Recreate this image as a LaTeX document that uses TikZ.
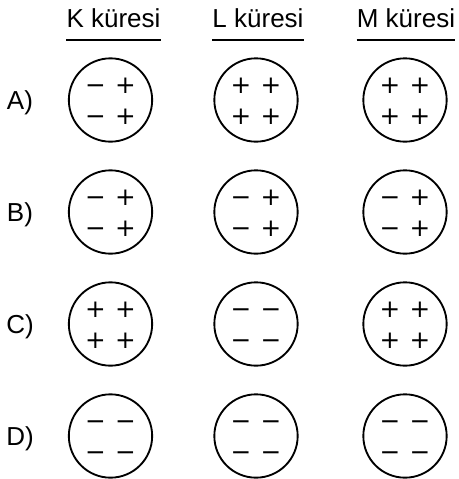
\documentclass[tikz,border=0pt]{standalone}
\usepackage{fontspec}
\setmainfont{Liberation Sans}
\newfontfamily\signfont{DejaVu Sans}
\begin{document}
\begin{tikzpicture}[x=0.75pt, y=-0.75pt,
        sphere/.style={draw, circle, line width=1.4pt, minimum size=62.5pt, inner sep=0pt},
        head/.style={font=\fontsize{19.5}{23}\selectfont, anchor=base, inner sep=0pt},
        rowlabel/.style={font=\fontsize{19.5}{23}\selectfont, anchor=base, inner sep=0pt},
        charge/.style={font=\signfont\fontsize{18.5}{22}\selectfont, inner sep=0pt},
        rule/.style={line width=1.5pt}
    ]
    \useasboundingbox (0,0) rectangle (459,479);

    % --- Column headers ---
    \node[head] (hK) at (113.5,27) {K küresi};
    \node[head] (hL) at (258,27) {L küresi};
    \node[head] (hM) at (406,27) {M küresi};
    \foreach \h in {hK,hL,hM}
        \draw[rule] ([yshift=-9.75pt]\h.base west) -- ([yshift=-9.75pt]\h.base east);

    % --- Rows of spheres ---
    \foreach \row/\y in {A/100,B/212,C/324,D/436} {
        \node[rowlabel] (lbl\row) at (20,\y+9) {\row)};
        \foreach \col/\x in {K/110.5,L/256,M/405}
            \node[sphere] (\row\col) at (\x,\y) {};
    }

    % --- Charges (top left, top right, bottom left, bottom right) ---
    \foreach \s/\tl/\tr/\bl/\br in {AK/−/+/−/+, AL/+/+/+/+, AM/+/+/+/+,
            BK/−/+/−/+, BL/−/+/−/+, BM/−/+/−/+,
            CK/+/+/+/+, CL/−/−/−/−, CM/+/+/+/+,
            DK/−/−/−/−, DL/−/−/−/−, DM/−/−/−/−} {
        \node[charge] (\s-tl) at ([shift={(-15,-14.5)}]\s.center) {\vphantom{+}\tl};
        \node[charge] (\s-tr) at ([shift={(15,-14.5)}]\s.center) {\vphantom{+}\tr};
        \node[charge] (\s-bl) at ([shift={(-15,16.5)}]\s.center) {\vphantom{+}\bl};
        \node[charge] (\s-br) at ([shift={(15,16.5)}]\s.center) {\vphantom{+}\br};
    }

\end{tikzpicture}
\end{document}
